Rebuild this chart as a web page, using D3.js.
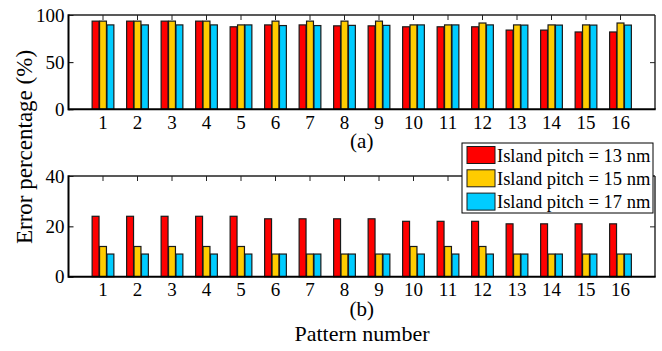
<!DOCTYPE html>
<html>
<head>
<meta charset="utf-8">
<script src="https://cdn.jsdelivr.net/npm/d3@7"></script>
<style>
  body { margin: 0; background: #fff; }
</style>
</head>
<body>
<div id="chart"></div>
<script>
// patterns 1..16, three island pitches
const patterns = d3.range(1, 17);
const series = ["Island pitch = 13 nm", "Island pitch = 15 nm", "Island pitch = 17 nm"];
const colors = ["#ff0000", "#ffcc00", "#00ccff"];

// panel (a)
const aPitch13 = [93.5, 93.5, 93.5, 93.5, 87.5, 89.5, 89.5, 88.5, 88.5, 87.5, 87.5, 87.5, 84, 84, 82, 82];
const aPitch15 = [93.5, 93.5, 93.5, 93.5, 89.5, 93.5, 93.5, 93.5, 93.5, 89.5, 89.5, 91.5, 89.5, 89.5, 89.5, 91.5];
const aPitch17 = [89.5, 89.5, 89.5, 89.5, 89.5, 88.8, 88.8, 89, 89, 89.5, 89.5, 89.5, 89.3, 89.3, 89.3, 89.3];
const aTicks = [0, 50, 100];

// panel (b)
const bPitch13 = [24, 24, 24, 24, 24, 23, 23, 23, 23, 22, 22, 22, 21, 21, 21, 21];
const bPitch15 = [12, 12, 12, 12, 12, 9, 9, 9, 9, 12, 12, 12, 9, 9, 9, 9];
const bPitch17 = [9, 9, 9, 9, 9, 9, 9, 9, 9, 9, 9, 9, 9, 9, 9, 9];
const bTicks = [0, 20, 40];

const W = 662, H = 351;
const left = 68.5, right = 655;
const FONT = "'Liberation Serif', 'Times New Roman', Times, 'DejaVu Serif', serif";

const svg = d3.select("#chart").append("svg")
    .attr("width", W).attr("height", H)
    .attr("font-family", FONT);

// group band: centres land on whole pattern numbers, gap of half a step at both ends
const x0 = d3.scaleBand().domain(patterns).range([left, right])
    .paddingInner(0.37).paddingOuter(0.685);
const x1 = d3.scaleBand().domain(d3.range(3)).range([0, x0.bandwidth()]).paddingInner(0.07);

function panel(top, bottom, yMax, ticks, values, tag, tagY) {
    const y = d3.scaleLinear().domain([0, yMax]).range([bottom, top]);
    const g = svg.append("g");

    // inward ticks on all four sides
    g.append("g").attr("transform", `translate(${left},0)`)
        .call(d3.axisLeft(y).tickValues(ticks).tickSizeInner(-5).tickSizeOuter(0).tickPadding(4))
        .attr("font-family", FONT).attr("font-size", 19)
        .call(a => a.select(".domain").remove())
        .call(a => a.selectAll("line").attr("stroke", "#000"));
    g.append("g").attr("transform", `translate(${right},0)`)
        .call(d3.axisRight(y).tickValues(ticks.slice(1, -1)).tickSizeInner(-5).tickSizeOuter(0))
        .call(a => a.select(".domain").remove())
        .call(a => a.selectAll("text").remove())
        .call(a => a.selectAll("line").attr("stroke", "#222"));
    g.append("g").attr("transform", `translate(0,${top})`)
        .call(d3.axisTop(x0).tickSizeInner(-5).tickSizeOuter(0))
        .call(a => a.select(".domain").remove())
        .call(a => a.selectAll("text").remove())
        .call(a => a.selectAll("line").attr("stroke", "#222"));
    g.append("g").attr("transform", `translate(0,${bottom})`)
        .call(d3.axisBottom(x0).tickSizeInner(-5).tickSizeOuter(0).tickPadding(6))
        .attr("font-family", FONT).attr("font-size", 19)
        .call(a => a.select(".domain").remove())
        .call(a => a.selectAll("line").attr("stroke", "#000"));

    // bars
    const grp = g.selectAll("g.pat").data(patterns).join("g")
        .attr("class", "pat")
        .attr("transform", d => `translate(${x0(d)},0)`);
    grp.selectAll("rect").data((d, i) => values.map((v, s) => ({ s, v: v[i] }))).join("rect")
        .attr("x", d => x1(d.s))
        .attr("width", x1.bandwidth())
        .attr("y", d => y(d.v))
        .attr("height", d => y(0) - y(d.v))
        .attr("fill", d => colors[d.s])
        .attr("stroke", "#1a1a1a")
        .attr("stroke-width", 1.2);

    // box: left/bottom heavier
    g.append("line").attr("x1", left).attr("x2", right).attr("y1", top).attr("y2", top)
        .attr("stroke", "#222").attr("stroke-width", 1.4);
    g.append("line").attr("x1", right).attr("x2", right).attr("y1", top).attr("y2", bottom)
        .attr("stroke", "#222").attr("stroke-width", 1.4);
    g.append("line").attr("x1", left).attr("x2", left).attr("y1", top - 0.7).attr("y2", bottom + 1)
        .attr("stroke", "#000").attr("stroke-width", 2);
    g.append("line").attr("x1", left).attr("x2", right + 0.7).attr("y1", bottom).attr("y2", bottom)
        .attr("stroke", "#000").attr("stroke-width", 2);

    svg.append("text").attr("x", (left + right) / 2).attr("y", tagY)
        .attr("text-anchor", "middle").attr("font-size", 21).text(tag);
}

panel(15, 109.3, 100, aTicks, [aPitch13, aPitch15, aPitch17], "(a)", 148);
panel(176, 276.7, 40, bTicks, [bPitch13, bPitch15, bPitch17], "(b)", 316);

// legend
const lg = svg.append("g").attr("transform", "translate(462,143)");
lg.append("rect").attr("width", 191).attr("height", 70)
    .attr("fill", "#fff").attr("stroke", "#000").attr("stroke-width", 1);
const item = lg.selectAll("g.item").data(series).join("g")
    .attr("class", "item")
    .attr("transform", (d, i) => `translate(5,${3.5 + i * 23.3})`);
item.append("rect").attr("width", 28).attr("height", 17)
    .attr("fill", (d, i) => colors[i]).attr("stroke", "#1a1a1a").attr("stroke-width", 1);
item.append("text").attr("x", 30).attr("y", 15).attr("font-size", 18.5).text(d => d);

// axis titles
svg.append("text").attr("transform", "translate(32,147) rotate(-90)")
    .attr("text-anchor", "middle").attr("font-size", 23).text("Error percentage (%)");
svg.append("text").attr("x", 362).attr("y", 341)
    .attr("text-anchor", "middle").attr("font-size", 22).text("Pattern number");
</script>
</body>
</html>
